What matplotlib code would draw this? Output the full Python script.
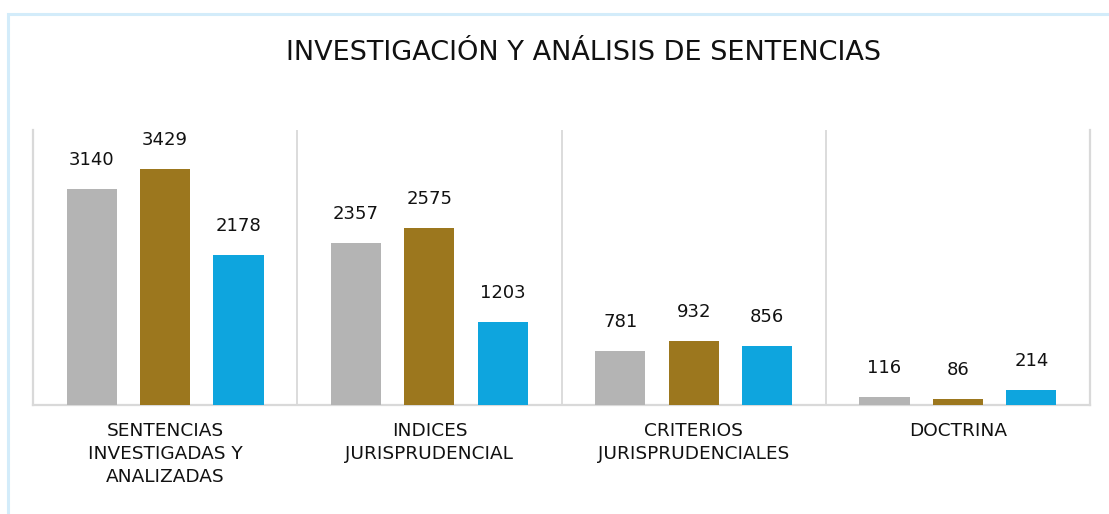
import matplotlib
matplotlib.use("Agg")
import matplotlib.pyplot as plt
import numpy as np
from matplotlib.patches import Rectangle

categories = ["SENTENCIAS\nINVESTIGADAS Y\nANALIZADAS", "INDICES\nJURISPRUDENCIAL",
              "CRITERIOS\nJURISPRUDENCIALES", "DOCTRINA"]
serie_1 = [3140, 2357, 781, 116]
serie_2 = [3429, 2575, 932, 86]
serie_3 = [2178, 1203, 856, 214]
title = "INVESTIGACIÓN Y ANÁLISIS DE SENTENCIAS"

colors = ["#B4B4B4", "#9C771E", "#0EA5DE"]

plt.rcParams['font.family'] = ['DejaVu Sans']

fig = plt.figure(figsize=(11.09, 5.14), dpi=100)
fig.patch.set_facecolor("white")

# light blue frame
fig.patches.append(Rectangle((8/1109, -0.05), 1.2, (514-14)/514 + 0.05,
                             transform=fig.transFigure, fill=False,
                             edgecolor="#D3ECFA", linewidth=2.2, zorder=0))

ax = fig.add_axes([33/1109, 109/514, (1090-33)/1109, (405-130)/514])
x = np.arange(len(categories))
width = 0.19
offs = [-0.278, 0.0, 0.278]
for vals, off, c in zip([serie_1, serie_2, serie_3], offs, colors):
    bars = ax.bar(x + off, vals, width=width, color=c, zorder=3)
    for b, v in zip(bars, vals):
        ax.annotate(str(v), (b.get_x() + b.get_width()/2, v), xytext=(0, 14.5),
                    textcoords="offset points", ha="center", va="bottom",
                    fontsize=13, color="#111111")

ax.set_xlim(-0.5, len(categories) - 0.5)
ax.set_ylim(0, 4000)
ax.set_yticks([])
ax.set_xticks(x)
ax.set_xticklabels(categories, fontsize=13.3, color="#111111", linespacing=1.38)
ax.tick_params(axis="x", length=0, pad=12)
ax.spines["top"].set_visible(False)
for s in ["left", "right", "bottom"]:
    ax.spines[s].set_color("#D9D9D9")
    ax.spines[s].set_linewidth(1.6)
for sep in x[:-1] + 0.5:
    ax.axvline(sep, color="#D9D9D9", linewidth=1.3, zorder=1)

fig.text(584/1109, 1 - 60/514, title, ha="center", va="baseline",
         fontsize=19.5, color="#111111")

fig.savefig("out.png", dpi=100, facecolor="white")
